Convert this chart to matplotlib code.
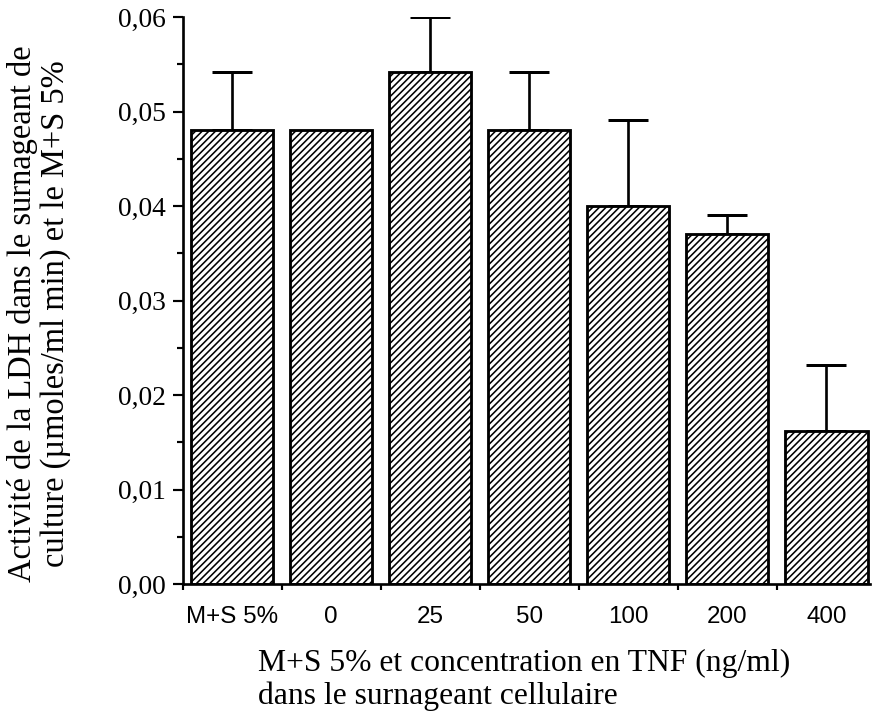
import numpy as np
import matplotlib
matplotlib.use("Agg")
import matplotlib.pyplot as plt
from matplotlib.ticker import MultipleLocator, FixedLocator

# LDH activity in culture supernatant (µmoles/ml min)
categories = ["M+S 5%", "0", "25", "50", "100", "200", "400"]
ldh_mean = [0.048, 0.048, 0.0542, 0.048, 0.040, 0.037, 0.0162]
ldh_err = [0.0062, 0.0, 0.0058, 0.0062, 0.0091, 0.0020, 0.0070]
y_ticks = [0.00, 0.01, 0.02, 0.03, 0.04, 0.05, 0.06]
y_tick_labels = ["0,00", "0,01", "0,02", "0,03", "0,04", "0,05", "0,06"]

DPI = 120
plt.rcParams["hatch.linewidth"] = 0.95
plt.rcParams["hatch.color"] = "black"

fig = plt.figure(figsize=(874 / DPI, 717 / DPI), dpi=DPI)
fig.patch.set_facecolor("white")
ax = fig.add_axes([182.5 / 874, 1 - 584 / 717, (870 - 182.5) / 874, (584 - 17) / 717])

x = np.arange(len(categories))
ax.bar(x, ldh_mean, width=0.83, facecolor="white", edgecolor="black",
       linewidth=1.7, hatch="//////", zorder=2)

err = np.array(ldh_err)
mask = err > 0
ax.errorbar(x[mask], np.array(ldh_mean)[mask],
            yerr=[np.zeros(mask.sum()), err[mask]],
            fmt="none", ecolor="black", elinewidth=1.6, capsize=12,
            capthick=1.8, zorder=1)

ax.set_xlim(-0.5, 6.44)
ax.set_ylim(0, 0.06)

for side in ("top", "right"):
    ax.spines[side].set_visible(False)
for side in ("left", "bottom"):
    ax.spines[side].set_linewidth(1.6)

serif = ["Liberation Serif", "DejaVu Serif"]
sans = ["Liberation Sans", "DejaVu Sans"]

ax.yaxis.set_major_locator(FixedLocator(y_ticks))
ax.set_yticklabels(y_tick_labels, family=serif, fontsize=16.5)
ax.yaxis.set_minor_locator(MultipleLocator(0.005))
ax.tick_params(axis="y", which="major", length=6, width=1.3, pad=4)
ax.tick_params(axis="y", which="minor", length=3.5, width=1.3)

ax.set_xticks(x)
ax.set_xticklabels(categories, family=sans, fontsize=14.5)
ax.xaxis.set_minor_locator(FixedLocator(np.arange(-0.5, 6.5, 1.0)))
ax.tick_params(axis="x", which="major", length=0, pad=13)
ax.tick_params(axis="x", which="minor", length=3.5, width=1.3)

fig.text(39 / 874, 1 - 314 / 717,
         "Activité de la LDH dans le surnageant de\nculture (µmoles/ml min) et le M+S 5%",
         rotation=90, ha="center", va="center", multialignment="center",
         family=serif, fontsize=19.5, linespacing=1.1)

fig.text(258 / 874, 1 - 680 / 717,
         "M+S 5% et concentration en TNF (ng/ml)\ndans le surnageant cellulaire",
         ha="left", va="center", multialignment="left",
         family=serif, fontsize=19, linespacing=1.15)

fig.savefig("out.png", dpi=DPI, facecolor="white")
